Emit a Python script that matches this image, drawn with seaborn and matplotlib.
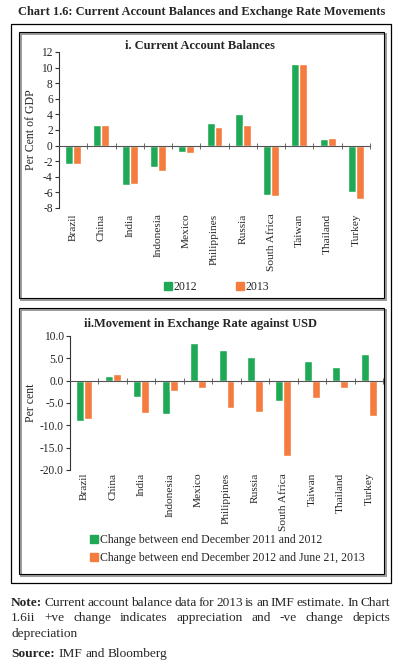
import matplotlib
matplotlib.use('Agg')
import matplotlib.pyplot as plt
from matplotlib.patches import Rectangle
from matplotlib.lines import Line2D
import seaborn as sns
import pandas as pd
import numpy as np

countries = ['Brazil', 'China', 'India', 'Indonesia', 'Mexico', 'Philippines',
             'Russia', 'South Africa', 'Taiwan', 'Thailand', 'Turkey']
ca_2012 = [-2.3, 2.6, -5.1, -2.7, -0.8, 2.9, 4.0, -6.3, 10.5, 0.8, -5.9]
ca_2013 = [-2.4, 2.7, -4.9, -3.3, -1.0, 2.4, 2.6, -6.4, 10.4, 1.0, -6.8]
fx_2011_12 = [-9.0, 1.0, -3.6, -7.5, 8.4, 6.8, 5.3, -4.6, 4.3, 3.1, 6.0]
fx_2012_13 = [-8.6, 1.6, -7.3, -2.3, -1.7, -6.2, -7.0, -16.8, -3.8, -1.7, -8.0]
ca_series = ['2012', '2013']
fx_series = ['Change between end December 2011 and 2012',
             'Change between end December 2012 and June 21, 2013']
ca_ticks = [12, 10, 8, 6, 4, 2, 0, -2, -4, -6, -8]
fx_ticks = [10.0, 5.0, 0.0, -5.0, -10.0, -15.0, -20.0]

GREEN = '#1fa855'
ORANGE = '#f47c3e'
W, H = 399, 665

sns.set_style('white')
plt.rcParams['font.family'] = ['Liberation Serif', 'DejaVu Serif']
plt.rcParams['axes.unicode_minus'] = False

fig = plt.figure(figsize=(W / 100, H / 100), dpi=100)


def fx(px):
    return px / W


def fy(py):
    return 1 - py / H


def long_df(a, b, names):
    return pd.DataFrame({'country': countries * 2, 'value': a + b,
                         'series': [names[0]] * len(a) + [names[1]] * len(b)})


def style_axis(ax, ticks, fmt, ylabel, label_x, pad):
    ax.set_xlim(-0.5, len(countries) - 0.5)
    ax.set_ylim(min(ticks), max(ticks))
    ax.set_yticks(ticks)
    ax.set_yticklabels([fmt.format(t) for t in ticks], fontsize=8.3)
    ax.tick_params(axis='y', length=3, width=0.8, color='#333333', pad=1.5, left=True)
    for s in ['top', 'right']:
        ax.spines[s].set_visible(False)
    ax.spines['left'].set_color('#333333')
    ax.spines['left'].set_linewidth(0.8)
    ax.spines['bottom'].set_position(('data', 0))
    ax.spines['bottom'].set_color('#555555')
    ax.spines['bottom'].set_linewidth(0.8)
    ax.set_xticks(np.arange(-0.5, len(countries), 1))
    ax.set_xticklabels([])
    ax.tick_params(axis='x', length=4, width=0.6, direction='inout', color='#555555', bottom=True)
    ax.set_xlabel('')
    ax.set_ylabel(ylabel, fontsize=8.5)
    ax.yaxis.set_label_coords(label_x, 0.5)
    sec = ax.secondary_xaxis('bottom')
    sec.set_xticks(range(len(countries)))
    sec.set_xticklabels(countries, rotation=90, fontsize=8.2)
    sec.tick_params(length=0, pad=pad)
    sec.spines['bottom'].set_visible(False)


# panel i
ax1 = fig.add_axes([fx(59), fy(208), 311 / W, 156 / H])
sns.barplot(data=long_df(ca_2012, ca_2013, ca_series), x='country', y='value',
            hue='series', palette=[GREEN, ORANGE], width=0.56, saturation=1,
            legend=False, ax=ax1)
style_axis(ax1, ca_ticks, '{:g}', 'Per Cent of GDP', (37 - 59) / 311, 4)

# panel ii
ax2 = fig.add_axes([fx(70), fy(470), 313 / W, 134 / H])
sns.barplot(data=long_df(fx_2011_12, fx_2012_13, fx_series), x='country', y='value',
            hue='series', palette=[GREEN, ORANGE], width=0.56, saturation=1,
            legend=False, ax=ax2)
style_axis(ax2, fx_ticks, '{:.1f}', 'Per cent', (37 - 70) / 313, 2)

# titles
fig.text(fx(201.5), fy(12), 'Chart 1.6: Current Account Balances and Exchange Rate Movements',
         ha='center', va='center', fontsize=8.95, weight='bold')
fig.text(fx(200), fy(46), 'i. Current Account Balances',
         ha='center', va='center', fontsize=9, weight='bold')
fig.text(fx(201), fy(324), 'ii.Movement in Exchange Rate against USD',
         ha='center', va='center', fontsize=9, weight='bold')

# legends
def handles():
    return [Line2D([], [], marker='s', ls='', color=c, markersize=6) for c in (GREEN, ORANGE)]


fig.legend(handles(), ca_series, loc='center', bbox_to_anchor=(fx(216), fy(287)),
           ncol=2, frameon=False, fontsize=8.5, columnspacing=3.2,
           handletextpad=0.1, handlelength=0.8, borderpad=0, borderaxespad=0)
fig.legend(handles(), fx_series, loc='upper left', bbox_to_anchor=(fx(89), fy(534)),
           ncol=1, frameon=False, fontsize=8.5, labelspacing=0.55,
           handletextpad=0.1, handlelength=0.8, borderpad=0, borderaxespad=0)

# boxes
fig.add_artist(Rectangle((fx(11), fy(583)), 380 / W, 559 / H, fill=False,
                         ec='black', lw=0.9, transform=fig.transFigure))
for top, bot in [(32, 298), (308, 574)]:
    fig.add_artist(Rectangle((fx(20.5), fy(bot + 1.5)), 365 / W, (bot - top) / H, fill=False,
                             ec='#9a9a9a', lw=1.4, transform=fig.transFigure))
    fig.add_artist(Rectangle((fx(19), fy(bot)), 365 / W, (bot - top) / H, fill=False,
                             ec='black', lw=0.8, transform=fig.transFigure))

# notes
renderer = fig.canvas.get_renderer()
NOTE_SIZE = 9.6


def width_of(s, weight='normal'):
    t = fig.text(0, 0, s, fontsize=NOTE_SIZE, weight=weight)
    w = t.get_window_extent(renderer).width
    t.remove()
    return w


def text_line(y, parts, x0=11, x1=390, justify=False):
    words = []
    for s, weight in parts:
        for w in s.split(' '):
            if w:
                words.append((w, weight))
    widths = [width_of(w, wt) for w, wt in words]
    space = width_of('a b') - width_of('ab')
    gap = space
    if justify and len(words) > 1:
        gap = max((x1 - x0 - sum(widths)) / (len(words) - 1), 0.6 * space)
    x = x0
    for (w, wt), wd in zip(words, widths):
        fig.text(fx(x), fy(y), w, fontsize=NOTE_SIZE, weight=wt, ha='left', va='center')
        x += wd + gap


text_line(603, [('Note:', 'bold'),
                ('Current account balance data for 2013 is an IMF estimate. In Chart', 'normal')],
          justify=True)
text_line(618, [('1.6ii +ve change indicates appreciation and -ve change depicts', 'normal')],
          justify=True)
text_line(634, [('depreciation', 'normal')])
text_line(654, [('Source:', 'bold'), ('IMF and Bloomberg', 'normal')])

fig.savefig('out.png', dpi=100)
